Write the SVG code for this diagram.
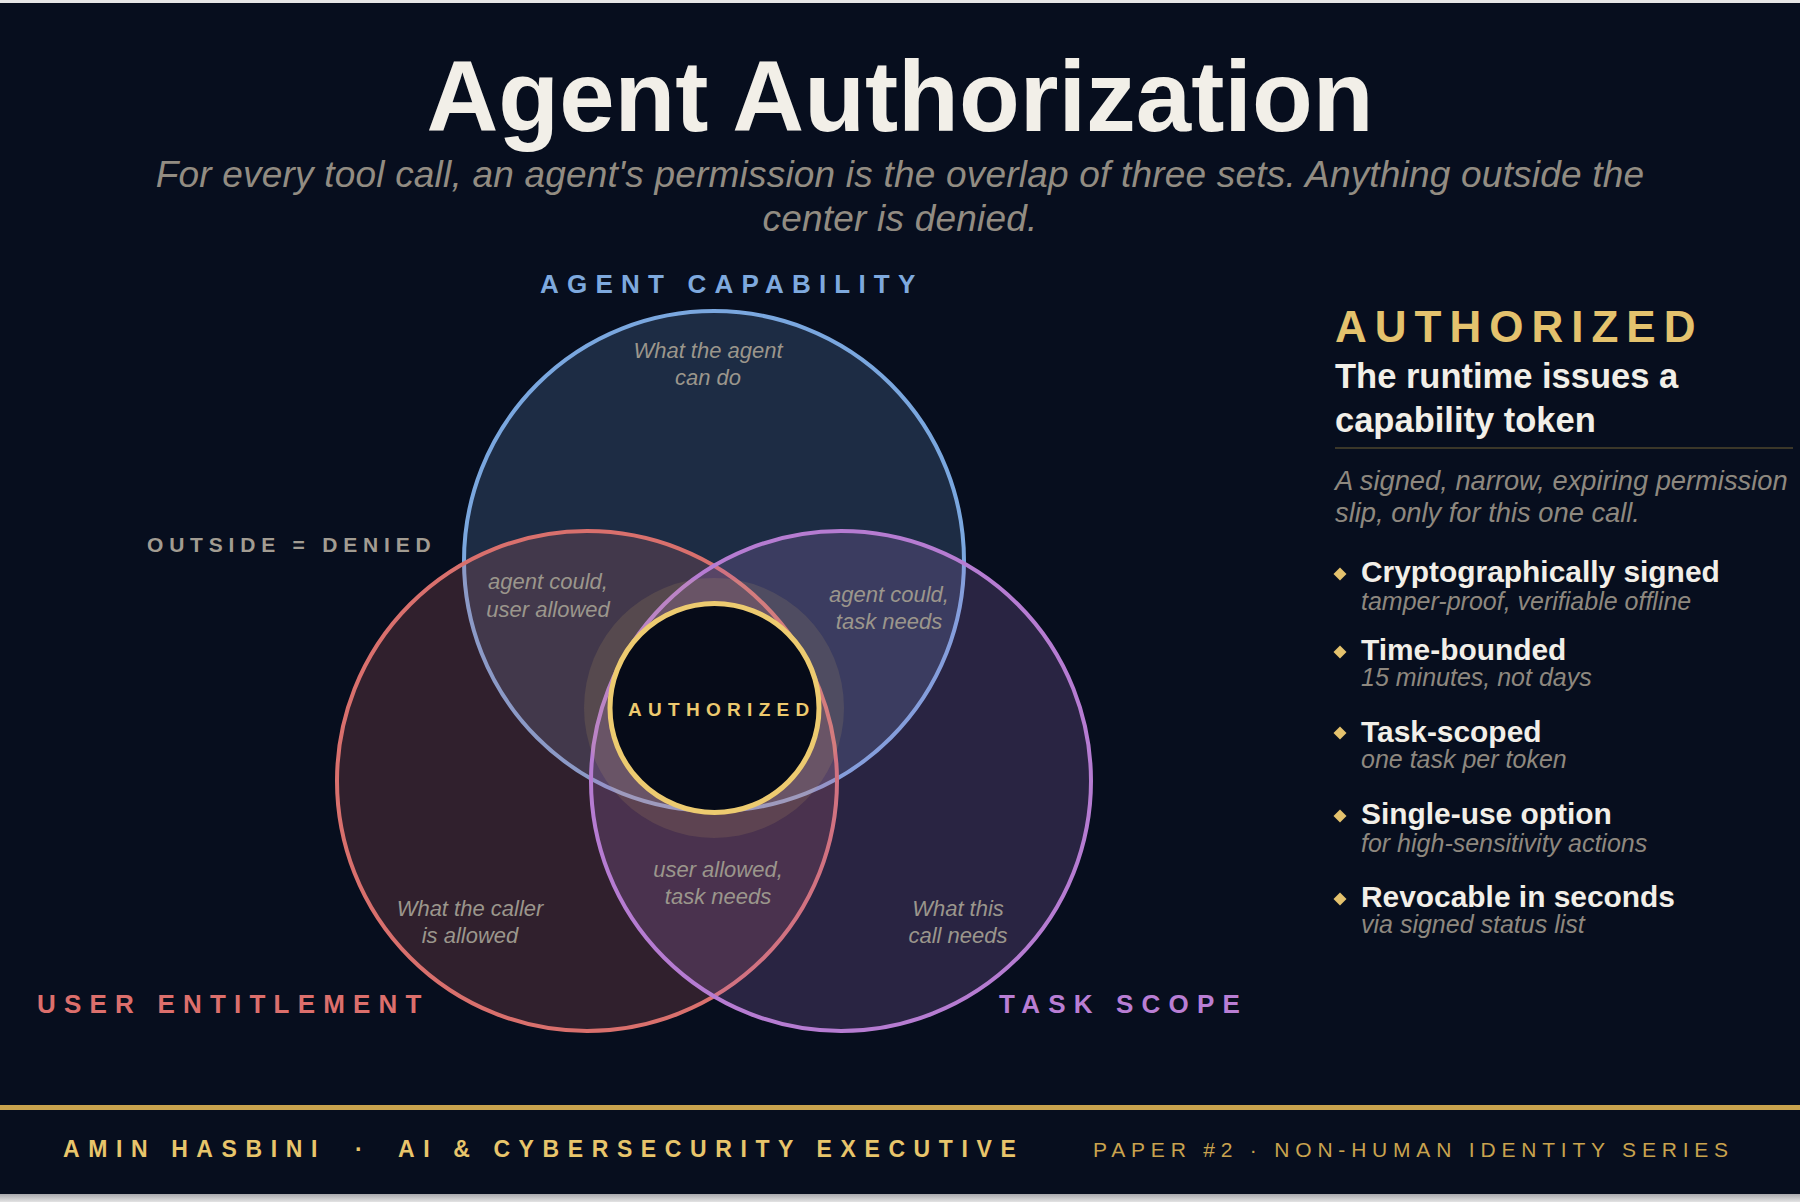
<svg xmlns="http://www.w3.org/2000/svg" width="1800" height="1202" viewBox="0 0 1800 1202">
  <defs>
    <style>
      .sans { font-family: "Liberation Sans", Arial, sans-serif; }
      .title { font-family: "Liberation Sans", Arial, sans-serif; font-weight: 700; font-size: 99.5px; fill: #f2efe8; }
      .sub { font-family: "Liberation Sans", Arial, sans-serif; font-style: italic; font-size: 37px; letter-spacing: 0.2px; fill: #928c82; }
      .setlabel { font-family: "Liberation Sans", Arial, sans-serif; font-weight: 700; font-size: 26px; letter-spacing: 8.2px; }
      .region { font-family: "Liberation Sans", Arial, sans-serif; font-style: italic; font-size: 22px; fill: #9b968c; text-anchor: middle; }
      .set { stroke-width: 4; fill-opacity: 0.2; }
      .head { font-family: "Liberation Sans", Arial, sans-serif; font-weight: 700; font-size: 34.5px; fill: #f2efe8; }
      .desc { font-family: "Liberation Sans", Arial, sans-serif; font-style: italic; font-size: 27.3px; fill: #8e887f; }
      .btitle { font-family: "Liberation Sans", Arial, sans-serif; font-weight: 700; font-size: 29.9px; fill: #f2efe8; }
      .bsub { font-family: "Liberation Sans", Arial, sans-serif; font-style: italic; font-size: 25px; fill: #8e887f; }
      .diamond { fill: #e4c26d; }
      .footL { font-family: "Liberation Sans", Arial, sans-serif; font-weight: 700; font-size: 23px; letter-spacing: 8.6px; fill: #e8c56b; }
      .footR { font-family: "Liberation Sans", Arial, sans-serif; font-size: 21px; letter-spacing: 5.8px; fill: #c9a34e; }
    </style>
    <linearGradient id="shadow" x1="0" y1="0" x2="0" y2="1">
      <stop offset="0" stop-color="#a8a8ac"/>
      <stop offset="1" stop-color="#e4e4e4"/>
    </linearGradient>
  </defs>

  <!-- page and card -->
  <rect x="0" y="0" width="1800" height="1202" fill="#e6e6e6"/>
  <rect x="0" y="1194" width="1800" height="8" fill="url(#shadow)"/>
  <rect x="0" y="3" width="1800" height="1191" fill="#070e1e"/>

  <!-- header -->
  <g id="header">
    <text class="title" x="900" y="131" text-anchor="middle">Agent Authorization</text>
    <text class="sub" x="900" y="187" text-anchor="middle">For every tool call, an agent's permission is the overlap of three sets. Anything outside the</text>
    <text class="sub" x="900" y="231" text-anchor="middle">center is denied.</text>
  </g>

  <!-- venn sets -->
  <g id="set-agent-capability">
    <circle class="set" cx="714" cy="561" r="250" fill="#7aa6dc" stroke="#7aa7df"/>
  </g>
  <g id="set-user-entitlement">
    <circle class="set" cx="587" cy="781" r="250" fill="#d96b6b" stroke="#d9706d"/>
  </g>
  <g id="set-task-scope">
    <circle class="set" cx="841" cy="781" r="250" fill="#b57dd1" stroke="#b67cd2"/>
  </g>

  <g id="authorized-center">
    <circle cx="714" cy="708" r="130" fill="#e8c76a" fill-opacity="0.12"/>
    <circle cx="714.5" cy="708" r="104.5" fill="#060b18" stroke="#edcb70" stroke-width="5"/>
    <text class="sans" x="628" y="716" font-size="19" font-weight="700" letter-spacing="6.3" fill="#ecc96e">AUTHORIZED</text>
  </g>

  <!-- set labels -->
  <g id="labels">
    <text class="setlabel" x="540" y="293" fill="#7ea9de">AGENT CAPABILITY</text>
    <text class="setlabel" x="37" y="1013" fill="#dc6f6c">USER ENTITLEMENT</text>
    <text class="setlabel" x="999" y="1013" fill="#b97ed4">TASK SCOPE</text>
    <text class="sans" x="147" y="552" font-size="21" font-weight="700" letter-spacing="5.8" fill="#a29c92">OUTSIDE = DENIED</text>
  </g>

  <!-- region labels -->
  <g id="region-labels">
    <text class="region" x="708" y="358">What the agent</text>
    <text class="region" x="708" y="385">can do</text>
    <text class="region" x="548" y="589">agent could,</text>
    <text class="region" x="548" y="617">user allowed</text>
    <text class="region" x="889" y="602">agent could,</text>
    <text class="region" x="889" y="629">task needs</text>
    <text class="region" x="718" y="877">user allowed,</text>
    <text class="region" x="718" y="904">task needs</text>
    <text class="region" x="470" y="916">What the caller</text>
    <text class="region" x="470" y="943">is allowed</text>
    <text class="region" x="958" y="916">What this</text>
    <text class="region" x="958" y="943">call needs</text>
  </g>

  <!-- right panel -->
  <g id="panel">
    <text class="sans" x="1335" y="342" font-size="44" font-weight="700" letter-spacing="8" fill="#e4c26d">AUTHORIZED</text>
    <text class="head" x="1335" y="388">The runtime issues a</text>
    <text class="head" x="1335" y="432">capability token</text>
    <line x1="1335" y1="448" x2="1793" y2="448" stroke="#3b3729" stroke-width="2"/>
    <text class="desc" x="1335" y="490">A signed, narrow, expiring permission</text>
    <text class="desc" x="1335" y="522">slip, only for this one call.</text>
  </g>

  <g id="bullet-1">
    <polygon class="diamond" points="1340,567.5 1346.5,574 1340,580.5 1333.5,574"/>
    <text class="btitle" x="1361" y="582">Cryptographically signed</text>
    <text class="bsub" x="1361" y="610">tamper-proof, verifiable offline</text>
  </g>
  <g id="bullet-2">
    <polygon class="diamond" points="1340,645.5 1346.5,652 1340,658.5 1333.5,652"/>
    <text class="btitle" x="1361" y="660">Time-bounded</text>
    <text class="bsub" x="1361" y="686">15 minutes, not days</text>
  </g>
  <g id="bullet-3">
    <polygon class="diamond" points="1340,726.5 1346.5,733 1340,739.5 1333.5,733"/>
    <text class="btitle" x="1361" y="742">Task-scoped</text>
    <text class="bsub" x="1361" y="768">one task per token</text>
  </g>
  <g id="bullet-4">
    <polygon class="diamond" points="1340,809.5 1346.5,816 1340,822.5 1333.5,816"/>
    <text class="btitle" x="1361" y="824">Single-use option</text>
    <text class="bsub" x="1361" y="852">for high-sensitivity actions</text>
  </g>
  <g id="bullet-5">
    <polygon class="diamond" points="1340,892.5 1346.5,899 1340,905.5 1333.5,899"/>
    <text class="btitle" x="1361" y="907">Revocable in seconds</text>
    <text class="bsub" x="1361" y="933">via signed status list</text>
  </g>

  <!-- footer -->
  <g id="footer">
    <rect x="0" y="1105" width="1800" height="5" fill="#c9a34e"/>
    <text class="footL" x="63" y="1157">AMIN HASBINI</text>
    <text class="footL" x="355" y="1157">·</text>
    <text class="footL" x="398" y="1157">AI &amp; CYBERSECURITY EXECUTIVE</text>
    <text class="footR" x="1093" y="1157">PAPER #2 · NON-HUMAN IDENTITY SERIES</text>
  </g>
</svg>
